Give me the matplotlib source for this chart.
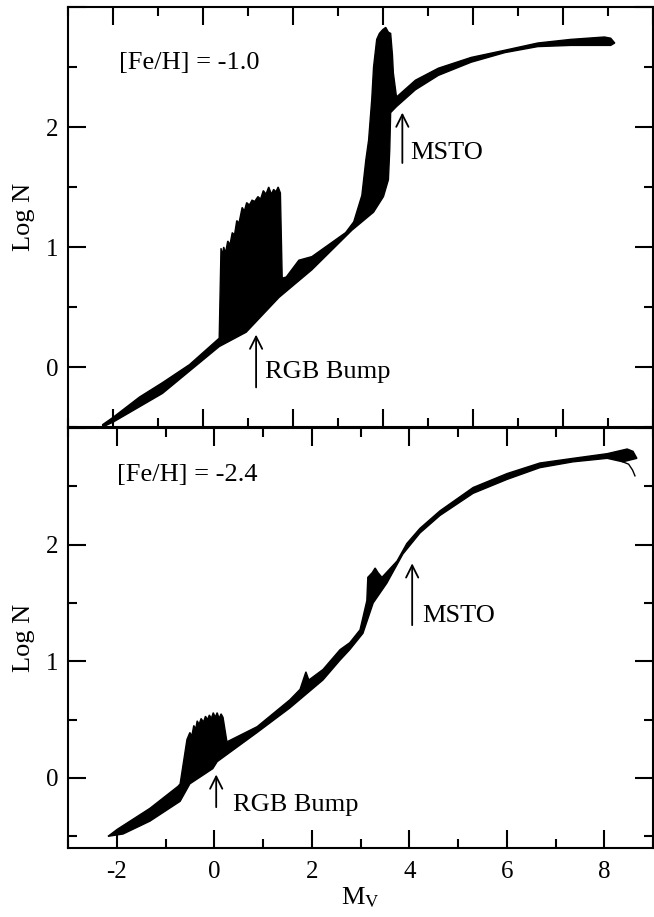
import numpy as np
import matplotlib
matplotlib.use("Agg")
import matplotlib.pyplot as plt
from matplotlib.ticker import MultipleLocator

plt.rcParams['font.family'] = ['Liberation Serif', 'DejaVu Serif']
plt.rcParams['mathtext.fontset'] = 'stix'
plt.rcParams['axes.unicode_minus'] = False

# [Fe/H] = -1.0 band (upper edge left->right, lower edge right->left)
top_up_x = [-2.23, -2.00, -1.41, -0.90, -0.30, 0.36, 0.40, 0.43, 0.46, 0.50, 0.55, 0.60,
            0.65, 0.70, 0.75, 0.80, 0.87, 0.92, 0.97, 1.03, 1.09, 1.15, 1.22, 1.28, 1.34,
            1.40, 1.46, 1.52, 1.57, 1.62, 1.67, 1.72, 1.76, 1.85, 2.13, 2.42, 3.17, 3.35,
            3.53, 3.62, 3.68, 3.75, 3.79, 3.86, 3.92, 3.99, 4.06, 4.12, 4.17, 4.21, 4.23,
            4.30, 4.72, 5.23, 5.96, 6.71, 7.44, 8.17, 8.92, 9.06, 9.15]
top_up_y = [-0.48, -0.42, -0.25, -0.13, 0.02, 0.24, 0.99, 0.93, 1.00, 0.95, 1.05, 1.02,
            1.12, 1.10, 1.22, 1.20, 1.33, 1.30, 1.37, 1.35, 1.39, 1.38, 1.42, 1.40, 1.47,
            1.44, 1.50, 1.44, 1.48, 1.46, 1.50, 1.45, 0.74, 0.75, 0.89, 0.92, 1.12, 1.21,
            1.43, 1.73, 1.89, 2.23, 2.50, 2.73, 2.78, 2.81, 2.83, 2.79, 2.78, 2.60, 2.45,
            2.25, 2.39, 2.49, 2.58, 2.64, 2.70, 2.73, 2.75, 2.74, 2.70]
top_lo_x = [9.06, 8.92, 8.17, 7.44, 6.71, 5.96, 5.23, 4.72, 4.30, 4.17, 4.15, 4.12, 4.01,
            3.79, 3.31, 2.42, 1.69, 0.96, 0.36, -0.90, -2.00, -2.23]
top_lo_y = [2.68, 2.68, 2.68, 2.67, 2.62, 2.54, 2.43, 2.31, 2.17, 2.12, 1.81, 1.56, 1.42,
            1.29, 1.14, 0.81, 0.58, 0.29, 0.17, -0.22, -0.46, -0.50]

# [Fe/H] = -2.4 band
bot_up_x = [-2.18, -1.99, -1.32, -0.74, -0.70, -0.56, -0.50, -0.46, -0.42, -0.38, -0.35,
            -0.31, -0.27, -0.22, -0.18, -0.14, -0.10, -0.06, -0.02, 0.02, 0.06, 0.10,
            0.14, 0.18, 0.26, 0.88, 1.55, 1.76, 1.88, 1.94, 2.23, 2.58, 2.78, 2.99,
            3.13, 3.15, 3.24, 3.30, 3.36, 3.44, 3.75, 3.95, 4.22, 4.63, 5.31, 6.01, 6.68,
            7.36, 8.06, 8.47, 8.59, 8.67]
bot_up_y = [-0.50, -0.44, -0.26, -0.07, -0.05, 0.33, 0.39, 0.36, 0.45, 0.42, 0.49,
            0.46, 0.51, 0.48, 0.53, 0.50, 0.54, 0.51, 0.56, 0.52, 0.56, 0.51, 0.55,
            0.52, 0.31, 0.44, 0.67, 0.76, 0.91, 0.84, 0.93, 1.10, 1.16, 1.27,
            1.52, 1.72, 1.76, 1.80, 1.76, 1.72, 1.86, 2.01, 2.14, 2.29, 2.49, 2.61, 2.70,
            2.74, 2.78, 2.82, 2.80, 2.74]
bot_lo_x = [8.38, 8.06, 7.36, 6.68, 6.01, 5.31, 4.63, 4.22, 3.87, 3.54, 3.26, 3.05, 2.78,
            2.58, 2.23, 1.55, 0.88, 0.06, -0.03, -0.50, -0.70, -1.32, -1.87, -2.18]
bot_lo_y = [2.71, 2.74, 2.71, 2.66, 2.56, 2.44, 2.25, 2.10, 1.92, 1.67, 1.50, 1.24, 1.10,
            1.01, 0.84, 0.60, 0.39, 0.14, 0.08, -0.05, -0.20, -0.37, -0.48, -0.50]
hook_x = [8.38, 8.50, 8.58, 8.63]
hook_y = [2.71, 2.69, 2.64, 2.59]

fig = plt.figure(figsize=(6.54, 9.17), dpi=100)
ax1 = fig.add_axes((68/654, 490/917, 585/654, 420/917))
ax2 = fig.add_axes((68/654, 69/917, 585/654, 420/917))

ax1.fill(top_up_x + top_lo_x, top_up_y + top_lo_y, color='black', lw=1.0)
ax2.fill(bot_up_x + bot_lo_x, bot_up_y + bot_lo_y, color='black', lw=1.0)
ax2.plot(hook_x, hook_y, color='black', lw=1.0)

ax1.set_xlim(-3, 10)
ax1.set_ylim(-0.5, 3.0)
ax2.set_xlim(-3, 9)
ax2.set_ylim(-0.6, 3.0)

for ax in (ax1, ax2):
    ax.xaxis.set_major_locator(MultipleLocator(2))
    ax.xaxis.set_minor_locator(MultipleLocator(1))
    ax.set_yticks([0, 1, 2, 3], ['0', '1', '2', ''])
    ax.yaxis.set_minor_locator(MultipleLocator(0.5))
    ax.tick_params(which='both', direction='in', top=True, right=True, width=1.5,
                   labelsize=18)
    ax.tick_params(which='major', length=13)
    ax.tick_params(which='minor', length=6.5)
    ax.tick_params(axis='x', pad=9)
    ax.tick_params(axis='y', pad=7)
    for s in ax.spines.values():
        s.set_linewidth(1.5)
    ax.set_ylabel('Log N', fontsize=19, labelpad=8)

ax1.tick_params(labelbottom=False)
ax2.set_xlabel('M$_\\mathrm{V}$', fontsize=19, labelpad=2)

ax1.text(-1.87, 2.53, '[Fe/H] = -1.0', fontsize=19, va='center')
ax2.text(-1.99, 2.60, '[Fe/H] = -2.4', fontsize=19, va='center')

arr = dict(arrowstyle='->', lw=1.3, mutation_scale=22, color='black',
           shrinkA=0, shrinkB=0)
ax1.annotate('', xy=(1.18, 0.27), xytext=(1.18, -0.17), arrowprops=arr)
ax1.text(1.38, -0.04, 'RGB Bump', fontsize=19, va='center')
ax1.annotate('', xy=(4.43, 2.12), xytext=(4.43, 1.70), arrowprops=arr)
ax1.text(4.61, 1.78, 'MSTO', fontsize=19, va='center')
ax2.annotate('', xy=(0.04, 0.03), xytext=(0.04, -0.25), arrowprops=arr)
ax2.text(0.38, -0.23, 'RGB Bump', fontsize=19, va='center')
ax2.annotate('', xy=(4.06, 1.84), xytext=(4.06, 1.31), arrowprops=arr)
ax2.text(4.26, 1.39, 'MSTO', fontsize=19, va='center')

fig.savefig('out.png', dpi=100)
